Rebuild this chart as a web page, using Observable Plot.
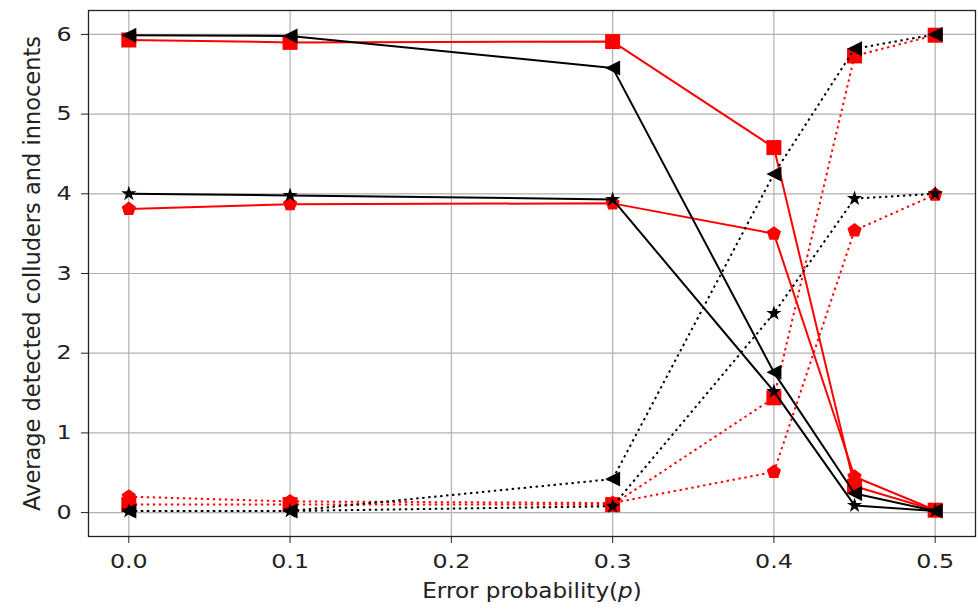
<!DOCTYPE html>
<html>
<head>
<meta charset="utf-8">
<script src="https://cdn.jsdelivr.net/npm/d3@7"></script>
<script src="https://cdn.jsdelivr.net/npm/@observablehq/plot@0.6"></script>
<style>
  html, body { margin: 0; padding: 0; background: #fff; }
  #chart { width: 978px; height: 609px; }
</style>
</head>
<body>
<div id="chart"></div>
<script>
// ---- data ----
const errorProb = [0, 0.1, 0.3, 0.4, 0.45, 0.5];
const xTicks = [0, 0.1, 0.2, 0.3, 0.4, 0.5];
const yTicks = [0, 1, 2, 3, 4, 5, 6];

const blackTriSolid  = [5.99, 5.98, 5.58, 1.76, 0.24, 0.02];
const blackStarSolid = [4.00, 3.98, 3.93, 1.52, 0.09, 0.02];
const redSqSolid     = [5.93, 5.90, 5.91, 4.58, 0.33, 0.03];
const redPentSolid   = [3.81, 3.87, 3.88, 3.50, 0.45, 0.03];
const blackTriDot    = [0.02, 0.02, 0.42, 4.25, 5.82, 6.00];
const blackStarDot   = [0.02, 0.02, 0.08, 2.50, 3.94, 4.00];
const redSqDot       = [0.10, 0.10, 0.10, 1.44, 5.73, 5.99];
const redPentDot     = [0.20, 0.14, 0.12, 0.51, 3.54, 3.99];

// ---- marker shapes (matplotlib-like) ----
const rad = (size) => Math.sqrt(size / Math.PI);
const triLeft = { draw(ctx, size) { const r = rad(size);
  ctx.moveTo(-r, 0); ctx.lineTo(r, -r); ctx.lineTo(r, r); ctx.closePath(); } };
const square = { draw(ctx, size) { const r = rad(size);
  ctx.moveTo(-r, -r); ctx.lineTo(r, -r); ctx.lineTo(r, r); ctx.lineTo(-r, r); ctx.closePath(); } };
const pentagon = { draw(ctx, size) { const r = rad(size);
  for (let k = 0; k < 5; k++) { const a = -Math.PI / 2 + k * 2 * Math.PI / 5;
    const px = r * Math.cos(a), py = r * Math.sin(a);
    if (k === 0) ctx.moveTo(px, py); else ctx.lineTo(px, py); } ctx.closePath(); } };
const star = { draw(ctx, size) { const r = rad(size), ri = r * 0.381966;
  for (let k = 0; k < 10; k++) { const a = -Math.PI / 2 + k * Math.PI / 5;
    const rr = k % 2 ? ri : r; const px = rr * Math.cos(a), py = rr * Math.sin(a);
    if (k === 0) ctx.moveTo(px, py); else ctx.lineTo(px, py); } ctx.closePath(); } };

const series = [
  {values: redSqSolid,     color: "#ff0000", dotted: false, symbol: square,   r: 7.5},
  {values: redPentSolid,   color: "#ff0000", dotted: false, symbol: pentagon, r: 7.5},
  {values: redSqDot,       color: "#ff0000", dotted: true,  symbol: square,   r: 7.5},
  {values: redPentDot,     color: "#ff0000", dotted: true,  symbol: pentagon, r: 7.5},
  {values: blackTriSolid,  color: "#000000", dotted: false, symbol: triLeft,  r: 7.5},
  {values: blackStarSolid, color: "#000000", dotted: false, symbol: star,     r: 8},
  {values: blackTriDot,    color: "#000000", dotted: true,  symbol: triLeft,  r: 7.5},
  {values: blackStarDot,   color: "#000000", dotted: true,  symbol: star,     r: 8},
];

const marks = [
  Plot.gridX(xTicks, {stroke: "#b0b0b0", strokeOpacity: 1, strokeWidth: 1.2}),
  Plot.gridY(yTicks, {stroke: "#b0b0b0", strokeOpacity: 1, strokeWidth: 1.2}),
];
for (const s of series) {
  const rows = errorProb.map((p, i) => ({p, v: s.values[i]}));
  marks.push(Plot.line(rows, {x: "p", y: "v", stroke: s.color, strokeWidth: 2,
    strokeDasharray: s.dotted ? "2.4,3.6" : null, strokeLinecap: "butt"}));
  marks.push(Plot.dot(rows, {x: "p", y: "v", symbol: s.symbol, r: s.r, fill: s.color, stroke: "none"}));
}
marks.push(
  Plot.axisX(xTicks, {tickFormat: d => d.toFixed(1), tickSize: 7, tickPadding: 11, fontSize: 19,
    label: "Error probability(p)", labelAnchor: "center", labelArrow: "none", labelOffset: 61}),
  Plot.axisY(yTicks, {tickFormat: d => String(d), tickSize: 7, tickPadding: 10, fontSize: 19,
    label: "Average detected colluders and innocents", labelAnchor: "center", labelArrow: "none", labelOffset: 64}),
  Plot.frame({stroke: "#222", strokeWidth: 1.3})
);

const chart = Plot.plot({
  width: 978, height: 609,
  marginLeft: 88, marginRight: 3, marginTop: 10, marginBottom: 73,
  x: {domain: [-0.025, 0.525]},
  y: {domain: [-0.3, 6.3]},
  style: {fontFamily: "DejaVu Sans", fontSize: "21px", color: "#222", background: "#fff", overflow: "visible"},
  marks
});
document.getElementById("chart").append(chart);

// widen text horizontally (the reference glyphs are stretched) using textLength
function stretch(el, sx) {
  const len = el.getComputedTextLength();
  if (len > 0) {
    el.setAttribute("textLength", (len * sx).toFixed(2));
    el.setAttribute("lengthAdjust", "spacingAndGlyphs");
  }
}
d3.select(chart).selectAll('g[aria-label="x-axis tick label"] text, g[aria-label="y-axis tick label"] text')
  .each(function () { stretch(this, 1.25); });

// y label a bit larger
d3.select(chart).select('g[aria-label="y-axis label"] text').style("font-size", "22.5px");

// italic p in the x label
const xl = d3.select(chart).select('g[aria-label="x-axis label"] text');
if (!xl.empty()) {
  xl.style("font-size", "21px");
  xl.text(null);
  xl.append("tspan").text("Error probability(");
  xl.append("tspan").attr("font-style", "italic").text("p");
  xl.append("tspan").text(")");
  stretch(xl.node(), 1.1);
}
</script>
</body>
</html>
